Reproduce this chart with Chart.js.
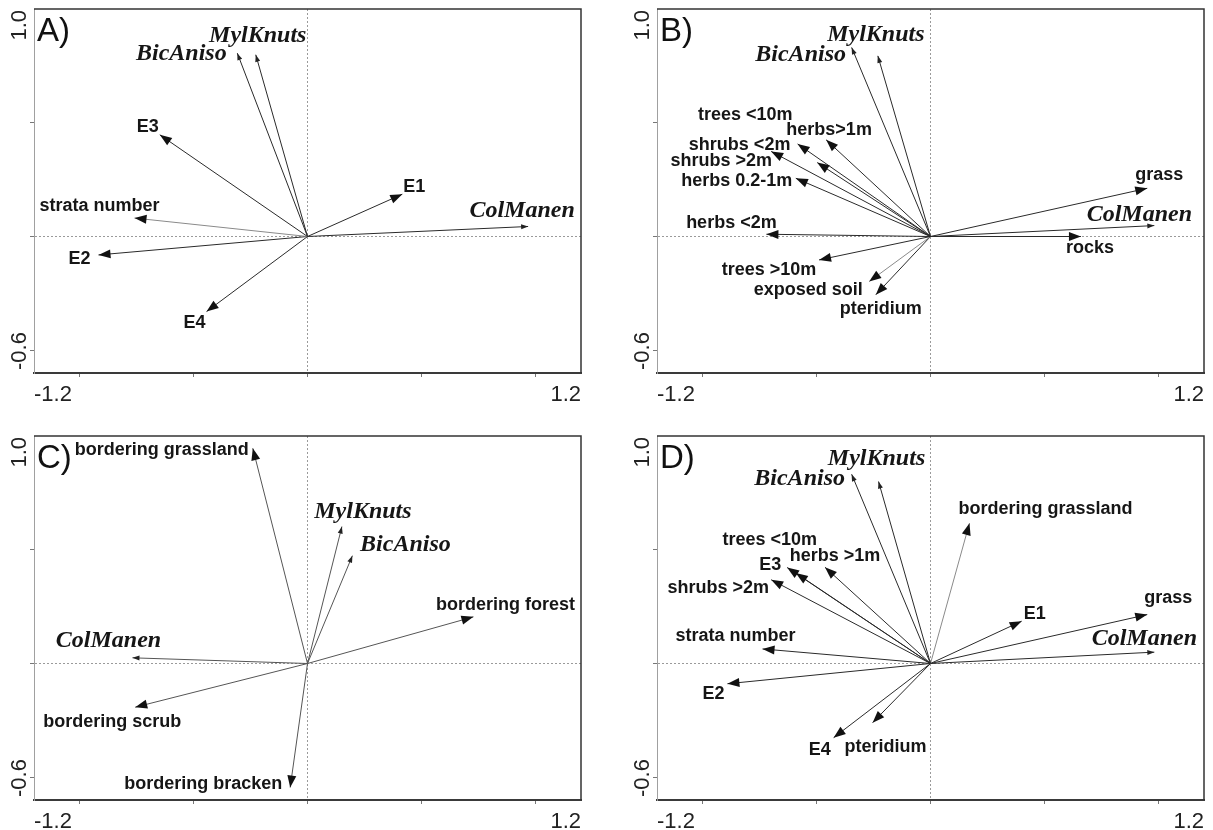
<!DOCTYPE html>
<html>
<head>
<meta charset="utf-8">
<script src="https://cdn.jsdelivr.net/npm/chart.js@4.4.0/dist/chart.umd.min.js"></script>
<style>
  body { margin: 0; background: #fff; width: 1213px; height: 830px; overflow: hidden; position: relative; }
  .panel { position: absolute; width: 590px; height: 403px; }
  canvas { display: block; }
</style>
</head>
<body>
<div class="panel" style="left:0;top:0"><canvas id="chartA" width="590" height="403"></canvas></div>
<div class="panel" style="left:623px;top:0"><canvas id="chartB" width="590" height="403"></canvas></div>
<div class="panel" style="left:0;top:427px"><canvas id="chartC" width="590" height="403"></canvas></div>
<div class="panel" style="left:623px;top:427px"><canvas id="chartD" width="590" height="403"></canvas></div>
<script>
// axes, same for every panel
const xRange = [-1.2, 1.2];
const yRange = [-0.6, 1.0];
const xTicks = [-1.2, -1.0, -0.5, 0, 0.5, 1.0, 1.2];
const yTicks = [-0.6, -0.5, 0, 0.5, 1.0];

const species = ['MylKnuts', 'BicAniso', 'ColManen'];

// A) species + E1-E4, strata number
const aNames = ['MylKnuts', 'BicAniso', 'E3', 'strata number', 'E2', 'E4', 'E1', 'ColManen'];
const aX = [-0.227, -0.308, -0.648, -0.759, -0.917, -0.443, 0.416, 0.968];
const aY = [0.799, 0.806, 0.447, 0.081, -0.081, -0.330, 0.186, 0.044];

// B) species + habitat structure
const bNames = ['MylKnuts', 'BicAniso', 'trees <10m', 'herbs>1m', 'shrubs <2m', 'shrubs >2m', 'herbs 0.2-1m',
  'herbs <2m', 'trees >10m', 'exposed soil', 'pteridium', 'grass', 'ColManen', 'rocks'];
const bX = [-0.231, -0.346, -0.497, -0.458, -0.583, -0.699, -0.591, -0.720, -0.489, -0.269, -0.240, 0.951, 0.982, 0.660];
const bY = [0.794, 0.831, 0.325, 0.425, 0.407, 0.374, 0.256, 0.010, -0.103, -0.198, -0.256, 0.212, 0.048, 0.0];

// C) species + bordering vegetation
const cNames = ['bordering grassland', 'MylKnuts', 'BicAniso', 'bordering forest', 'ColManen', 'bordering scrub', 'bordering bracken'];
const cX = [-0.240, 0.151, 0.197, 0.728, -0.768, -0.756, -0.076];
const cY = [0.946, 0.602, 0.474, 0.205, 0.025, -0.192, -0.545];

// D) combined model
const dNames = ['MylKnuts', 'BicAniso', 'bordering grassland', 'trees <10m', 'E3', 'herbs >1m', 'shrubs >2m',
  'strata number', 'E2', 'E4', 'pteridium', 'E1', 'grass', 'ColManen'];
const dX = [-0.228, -0.346, 0.171, -0.591, -0.629, -0.463, -0.699, -0.737, -0.891, -0.425, -0.254, 0.400, 0.951, 0.982];
const dY = [0.800, 0.832, 0.617, 0.398, 0.422, 0.423, 0.368, 0.064, -0.089, -0.326, -0.260, 0.186, 0.215, 0.050];

// label placement relative to the arrow tip, in pixels
const labelShift = {
  A: { 'MylKnuts': [2, -19], 'BicAniso': [-56, 1], 'E3': [-12, -8], 'strata number': [-35, -12],
       'E2': [-19, 4], 'E4': [-12, 11], 'E1': [12, -7], 'ColManen': [-6, -16] },
  B: { 'MylKnuts': [-2, -21], 'BicAniso': [-51, 7], 'trees <10m': [-72, -48], 'herbs>1m': [3, -10],
       'shrubs <2m': [-58, 1], 'shrubs >2m': [-50, 10], 'herbs 0.2-1m': [-59, 3], 'herbs <2m': [-35, -11],
       'trees >10m': [-50, 10], 'exposed soil': [-61, 8], 'pteridium': [5, 14], 'grass': [12, -13],
       'ColManen': [-15, -11], 'rocks': [9, 12] },
  C: { 'bordering grassland': [-91, 2], 'MylKnuts': [21, -15], 'BicAniso': [53, -11], 'bordering forest': [32, -12],
       'ColManen': [-24, -17], 'bordering scrub': [-23, 15], 'bordering bracken': [-87, -3] },
  D: { 'MylKnuts': [-2, -23], 'BicAniso': [-52, 5], 'bordering grassland': [76, -14], 'trees <10m': [-26, -33],
       'E3': [-17, -2], 'herbs >1m': [10, -11], 'shrubs >2m': [-53, 8], 'strata number': [-27, -13],
       'E2': [-14, 10], 'E4': [-14, 12], 'pteridium': [13, 24], 'E1': [13, -7], 'grass': [21, -17], 'ColManen': [-10, -13] }
};

const lightArrows = ['A:strata number', 'B:exposed soil', 'D:bordering grassland'];

const sansFont = '"Liberation Sans", Arial, sans-serif';
const serifFont = '"Liberation Serif", "Times New Roman", serif';

function drawHead(ctx, x0, y0, x1, y1, len, half, color) {
  const a = Math.atan2(y1 - y0, x1 - x0);
  ctx.save();
  ctx.translate(x1, y1);
  ctx.rotate(a);
  ctx.beginPath();
  ctx.moveTo(0, 0);
  ctx.lineTo(-len, half);
  ctx.lineTo(-len, -half);
  ctx.closePath();
  ctx.fillStyle = color;
  ctx.fill();
  ctx.restore();
}

const biplotPlugin = {
  id: 'biplot',
  afterDatasetsDraw(chart, args, opts) {
    const ctx = chart.ctx;
    chart.data.datasets.forEach((ds, i) => {
      const pts = chart.getDatasetMeta(i).data;
      const p0 = pts[0], p1 = pts[1];
      const isSp = species.includes(ds.label);
      if (isSp) drawHead(ctx, p0.x, p0.y, p1.x, p1.y, 7, 2.5, '#222');
      else drawHead(ctx, p0.x, p0.y, p1.x, p1.y, 12, 4.5, '#111');

      const sh = labelShift[opts.letter][ds.label] || [0, 0];
      ctx.save();
      ctx.fillStyle = '#161616';
      ctx.textAlign = 'center';
      ctx.textBaseline = 'middle';
      ctx.font = isSp ? 'bold italic 24px ' + serifFont : 'bold 18px ' + sansFont;
      ctx.fillText(ds.label, p1.x + sh[0], p1.y + sh[1]);
      ctx.restore();
    });
  },
  afterDraw(chart, args, opts) {
    const ctx = chart.ctx;
    const ca = chart.chartArea;
    const ys = chart.scales.y;
    ctx.save();
    // frame top / right
    ctx.strokeStyle = '#333';
    ctx.lineWidth = 1.5;
    ctx.beginPath();
    ctx.moveTo(ca.left, ca.top);
    ctx.lineTo(ca.right, ca.top);
    ctx.lineTo(ca.right, ca.bottom);
    ctx.stroke();

    // y end labels, rotated
    ctx.fillStyle = '#222';
    ctx.font = '22px ' + sansFont;
    ctx.textBaseline = 'middle';
    ctx.save();
    ctx.translate(ca.left - 14, ys.getPixelForValue(yRange[1]) + 1);
    ctx.rotate(-Math.PI / 2);
    ctx.textAlign = 'right';
    ctx.fillText(yRange[1].toFixed(1), 0, 0);
    ctx.restore();
    ctx.save();
    ctx.translate(ca.left - 14, ys.getPixelForValue(yRange[0]) - 3);
    ctx.rotate(-Math.PI / 2);
    ctx.textAlign = 'left';
    ctx.fillText(yRange[0].toFixed(1), 0, 0);
    ctx.restore();

    // panel letter
    ctx.font = '33px ' + sansFont;
    ctx.fillStyle = '#111';
    ctx.textAlign = 'left';
    ctx.textBaseline = 'alphabetic';
    ctx.fillText(opts.letter + ')', ca.left + 3, ca.top + 32);
    ctx.restore();
  }
};

function makePanel(canvasId, letter, names, xs, ys) {
  const datasets = names.map((n, i) => {
    const light = lightArrows.includes(letter + ':' + n);
    return {
      label: n,
      data: [{ x: 0, y: 0 }, { x: xs[i], y: ys[i] }],
      showLine: true,
      borderColor: light ? '#8a8a8a' : (letter === 'C' ? '#555' : '#2a2a2a'),
      borderWidth: 1,
      pointRadius: 0,
      fill: false
    };
  });

  new Chart(document.getElementById(canvasId), {
    type: 'scatter',
    data: { datasets: datasets },
    options: {
      responsive: false,
      animation: false,
      devicePixelRatio: 1,
      layout: { padding: { left: 30, top: 9, right: 9, bottom: 0 } },
      plugins: {
        legend: { display: false },
        tooltip: { enabled: false },
        biplot: { letter: letter }
      },
      scales: {
        x: {
          type: 'linear',
          min: xRange[0],
          max: xRange[1],
          afterBuildTicks: s => { s.ticks = xTicks.map(v => ({ value: v })); },
          afterFit: s => { s.height = 30; },
          ticks: {
            align: 'inner',
            padding: 5,
            maxRotation: 0,
            autoSkip: false,
            color: '#222',
            font: { family: sansFont, size: 22 },
            callback: (v, i, arr) => (i === 0 || i === arr.length - 1) ? Number(v).toFixed(1) : ''
          },
          grid: {
            color: c => (c.tick && c.tick.value === 0) ? '#9a9a9a' : 'rgba(0,0,0,0)',
            lineWidth: 1,
            tickLength: 4,
            tickColor: c => (c.index === 0 || c.index === xTicks.length - 1) ? 'rgba(0,0,0,0)' : '#777'
          },
          border: { display: true, color: '#3a3a3a', width: 2, dash: [2, 2] }
        },
        y: {
          type: 'linear',
          min: yRange[0],
          max: yRange[1],
          afterBuildTicks: s => { s.ticks = yTicks.map(v => ({ value: v })); },
          afterFit: s => { s.width = 4; },
          ticks: { display: false },
          grid: {
            color: c => (c.tick && c.tick.value === 0) ? '#9a9a9a' : 'rgba(0,0,0,0)',
            lineWidth: 1,
            tickLength: 4,
            tickColor: c => (c.index === 0 || c.index === yTicks.length - 1) ? 'rgba(0,0,0,0)' : '#777'
          },
          border: { display: true, color: '#a0a0a0', width: 1, dash: [2, 2] }
        }
      }
    },
    plugins: [biplotPlugin]
  });
}

makePanel('chartA', 'A', aNames, aX, aY);
makePanel('chartB', 'B', bNames, bX, bY);
makePanel('chartC', 'C', cNames, cX, cY);
makePanel('chartD', 'D', dNames, dX, dY);
</script>
</body>
</html>
